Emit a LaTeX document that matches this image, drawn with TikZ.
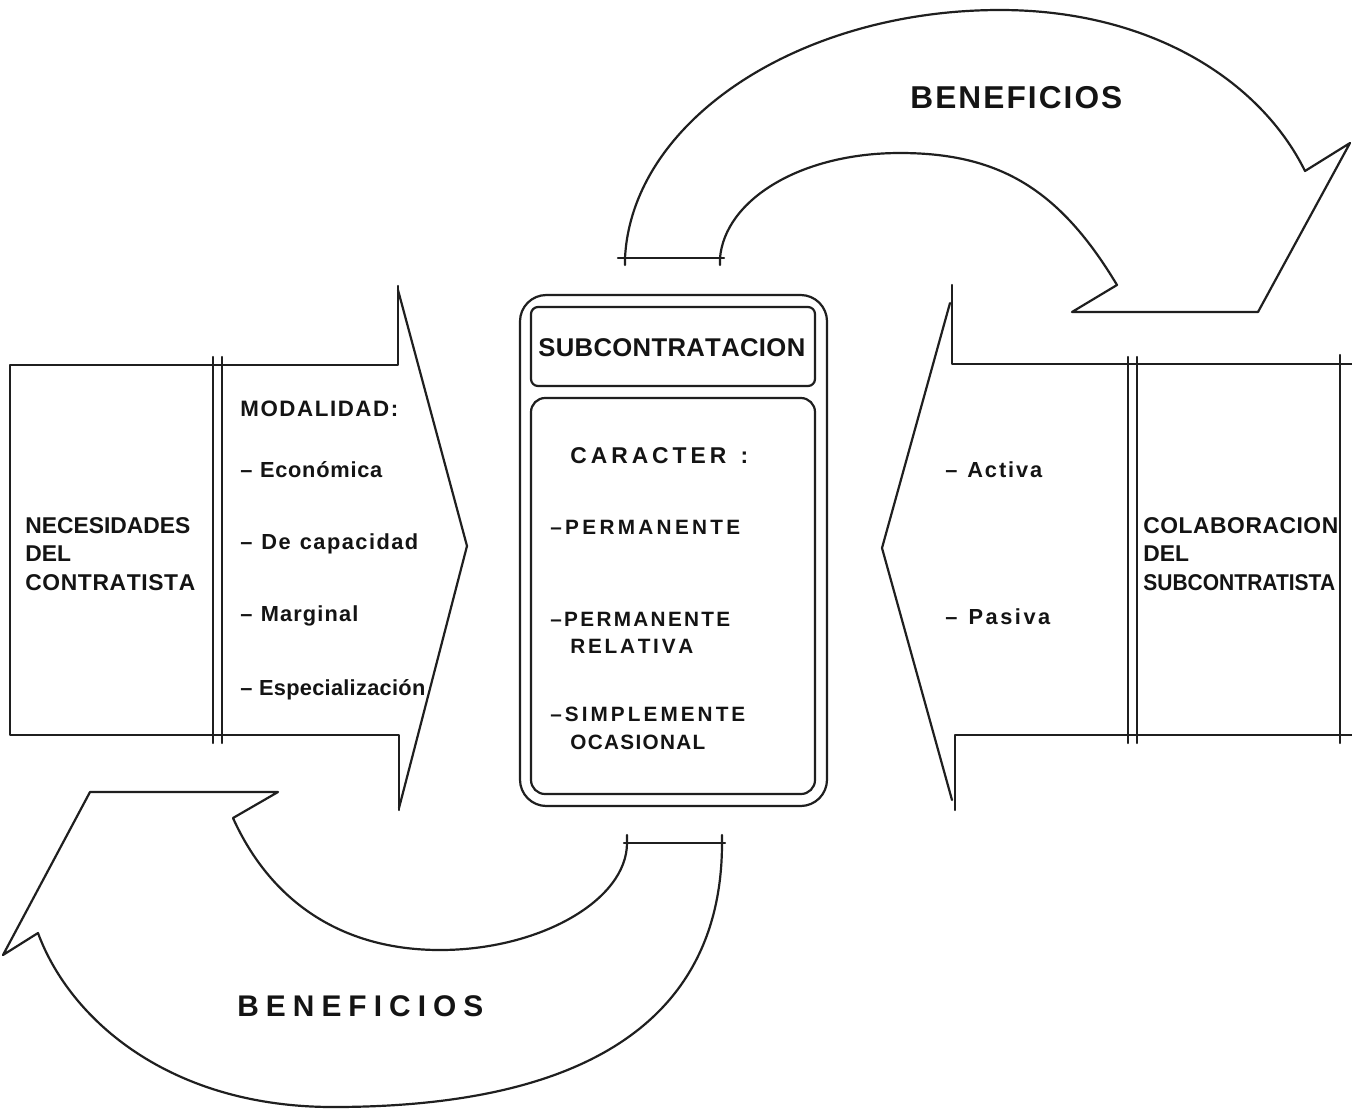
\documentclass[tikz,border=0pt]{standalone}
\usepackage{fontspec}
\usepackage{graphicx}
\setmainfont{Liberation Sans}

% Spread the characters of #2 evenly over a box of width #1
\ExplSyntaxOn
\NewDocumentCommand\spreadto{mm}
 {
  \makebox[#1][s]
   {
    \bool_set_true:N \l_tmpa_bool
    \tl_map_inline:nn {#2}
     {
      \bool_if:NTF \l_tmpa_bool { \bool_set_false:N \l_tmpa_bool } { \hfil }
      ##1
     }
   }
 }
\ExplSyntaxOff

\newcommand\fsz[1]{\fontsize{#1}{#1}\selectfont\bfseries}

\begin{document}
\begin{tikzpicture}[x=0.02cm, y=-0.02cm, line cap=round, line join=round,
  ink/.style={line width=1.25pt, draw=black!88},
  lbl/.style={anchor=base west, inner sep=0pt, text=black!92}]
\useasboundingbox (0,0) rectangle (1352,1113);
\fill[white] (0,0) rectangle (1352,1113);

% ---------- left block arrow: contractor's needs ----------
\draw[ink] (398,286) -- (398,365) -- (10,365) -- (10,735) -- (399,735) -- (399,810);
\draw[ink] (398,290) -- (467,546) -- (399,808);
\draw[ink] (213,357) -- (213,743);
\draw[ink] (222,357) -- (222,743);

\node[lbl, font=\fsz{13}] (nec1) at (25,533) {NECESIDADES};
\node[lbl, font=\fsz{13}] (nec2) at (25,561) {DEL};
\node[lbl, font=\fsz{13}] (nec3) at (25,590) {\spreadto{3.40cm}{CONTRATISTA}};

\node[lbl, font=\fsz{12.7}] (mod) at (240,416) {\spreadto{3.16cm}{MODALIDAD:}};
\node[lbl, font=\fsz{12.4}] (mod1) at (240,477) {\spreadto{2.84cm}{–~Económica}};
\node[lbl, font=\fsz{12.4}] (mod2) at (240,549) {\spreadto{3.56cm}{–~De~capacidad}};
\node[lbl, font=\fsz{12.4}] (mod3) at (240,621) {\spreadto{2.36cm}{–~Marginal}};
\node[lbl, font=\fsz{12.4}] (mod4) at (240,695) {\spreadto{3.70cm}{–~Especialización}};

% ---------- central box: subcontracting ----------
\draw[ink, rounded corners=15] (520,295) rectangle (827,806);
\draw[ink, rounded corners=4] (531,307) rectangle (815,386);
\draw[ink, rounded corners=8] (531,398) rectangle (815,794);

\node[lbl, font=\fsz{14.6}] (sub) at (538,356) {\spreadto{5.34cm}{SUBCONTRATACION}};
\node[lbl, font=\fsz{13}] (car) at (570,463) {\spreadto{3.56cm}{CARACTER~:}};
\node[lbl, font=\fsz{11.8}] (car1) at (550,534) {\spreadto{3.80cm}{–PERMANENTE}};
\node[lbl, font=\fsz{11.8}] (car2a) at (550,626) {\spreadto{3.60cm}{–PERMANENTE}};
\node[lbl, font=\fsz{11.8}] (car2b) at (570,653) {\spreadto{2.46cm}{RELATIVA}};
\node[lbl, font=\fsz{11.8}] (car3a) at (550,721) {\spreadto{3.90cm}{–SIMPLEMENTE}};
\node[lbl, font=\fsz{11.8}] (car3b) at (570,749) {\spreadto{2.70cm}{OCASIONAL}};

% ---------- right block arrow: subcontractor's collaboration ----------
\draw[ink] (952,285) -- (952,364) -- (1352,364);
\draw[ink] (955,810) -- (955,735) -- (1352,735);
\draw[ink] (950,303) -- (882,548) -- (952,800);
\draw[ink] (1128,357) -- (1128,743);
\draw[ink] (1137,357) -- (1137,743);
\draw[ink] (1340,355) -- (1340,743);

\node[lbl, font=\fsz{12.4}] (act) at (945,477) {\spreadto{1.94cm}{–~Activa}};
\node[lbl, font=\fsz{12.4}] (pas) at (945,624) {\spreadto{2.10cm}{–~Pasiva}};

\node[lbl, font=\fsz{13}] (col1) at (1143,533) {\spreadto{3.90cm}{COLABORACION}};
\node[lbl, font=\fsz{13}] (col2) at (1143,561) {DEL};
\node[lbl, font=\fsz{13}] (col3) at (1143,590) {\scalebox{0.92}[1]{SUBCONTRATISTA}};

% ---------- upper curved arrow: benefits ----------
\draw[ink] (618,258) -- (724,258);
\draw[ink] (625,265) -- (625,258)
  .. controls (632,120) and (800,10) .. (1000,10)
  .. controls (1150,10) and (1260,80) .. (1305,171)
  -- (1350,143) -- (1258,312) -- (1072,312) -- (1117,285)
  .. controls (1060,190) and (1000,153) .. (900,153)
  .. controls (800,153) and (725,200) .. (720,258) -- (720,265);
\node[lbl, font=\fsz{18}] (ben1) at (910,108) {\spreadto{4.24cm}{BENEFICIOS}};

% ---------- lower curved arrow: benefits ----------
\draw[ink] (624,843) -- (725,843);
\draw[ink] (627,835) -- (627,843)
  .. controls (627,900) and (540,950) .. (440,950)
  .. controls (340,950) and (270,900) .. (233,818)
  -- (278,792) -- (90,792) -- (3,955) -- (38,933)
  .. controls (70,1020) and (170,1107) .. (333,1107)
  .. controls (600,1107) and (722,1010) .. (722,843) -- (722,835);
\node[lbl, font=\fsz{17}] (ben2) at (237,1016) {\spreadto{4.92cm}{BENEFICIOS}};
\end{tikzpicture}
\end{document}
